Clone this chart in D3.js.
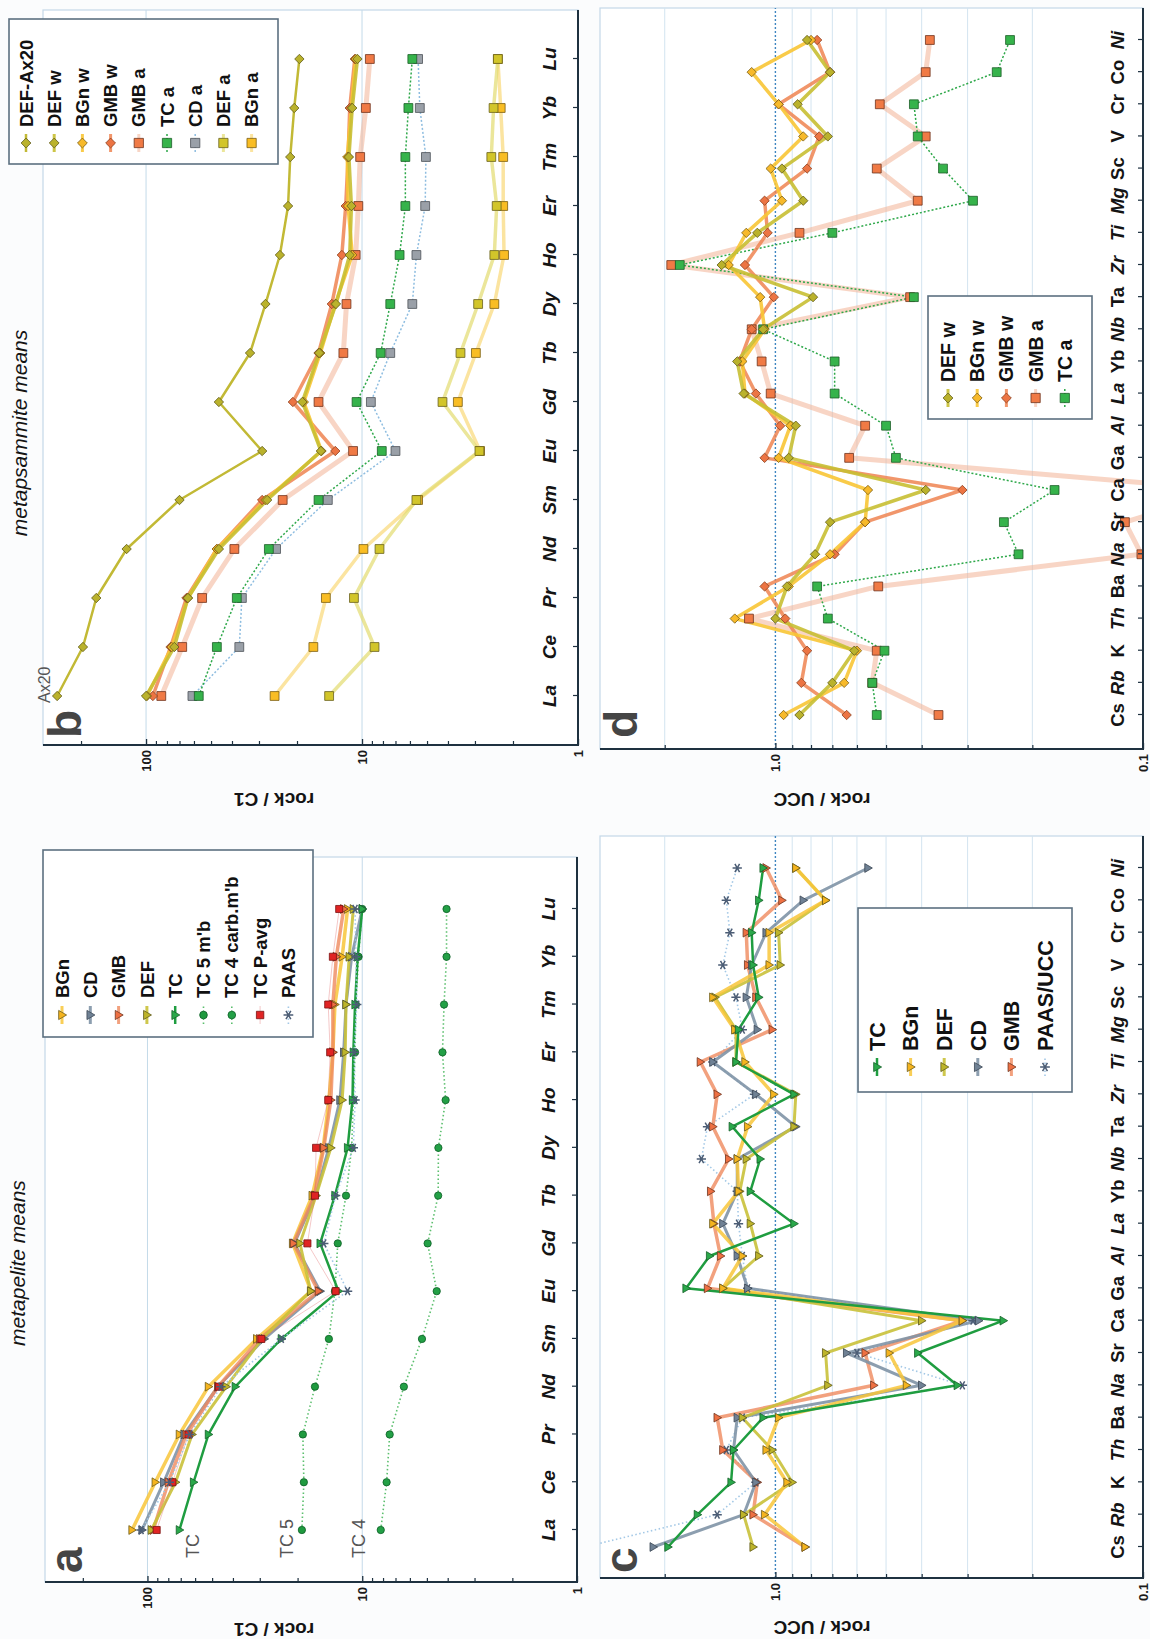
<!DOCTYPE html>
<html>
<head>
<meta charset="utf-8">
<title>Metapelite and metapsammite means: REE and trace element patterns</title>
<script src="https://cdn.jsdelivr.net/npm/d3@7"></script>
<style>
  html, body { margin: 0; padding: 0; background: #fbfcfd; }
  svg { display: block; }
</style>
</head>
<body>
<svg id="fig" width="1150" height="1639"></svg>
<script>
// ---------- categories ----------
const reeElements = ["La","Ce","Pr","Nd","Sm","Eu","Gd","Tb","Dy","Ho","Er","Tm","Yb","Lu"];
const uccElements = ["Cs","Rb","K","Th","Ba","Na","Sr","Ca","Ga","Al","La","Yb","Nb","Ta","Zr","Ti","Mg","Sc","V","Cr","Co","Ni"];
const uccItalic = ["Rb","Th","Na","Al","La","Nb","Zr","Ti","Mg","Ni"];

// ---------- value-axis ticks ----------
const c1TickValues = [100, 10, 1];
const c1TickLabels = ["100", "10", "1"];
const c1MinorTicks = [200, 90, 80, 70, 60, 50, 40, 30, 20, 9, 8, 7, 6, 5, 4, 3, 2];
const c1GridValues = [100, 10];
const uccTickValues = [1, 0.1];
const uccTickLabels = ["1.0", "0.1"];
const uccMinorTicks = [2, 0.9, 0.8, 0.7, 0.6, 0.5, 0.4, 0.3, 0.2];
const uccGridValues = [2, 0.9, 0.8, 0.7, 0.6, 0.5, 0.4, 0.3, 0.2];

// ---------- (a) metapelite means, rock / C1 ----------
const pelBGn    = [118, 92, 71, 52, 31, 17.3, 21.1, 17.1, 15.2, 14.3, 13.7, 13.4, 12.4, 11.7];
const pelCD     = [106, 84, 67.5, 47, 28.6, 15.7, 20.7, 16.5, 14.3, 12.7, 12.2, 11.9, 11.2, 10.0];
const pelGMB    = [94, 80, 66, 47, 30, 16.0, 20.9, 16.7, 15.1, 14.0, 13.7, 13.7, 13.2, 12.2];
const pelDEF    = [96, 74, 62, 43, 29.3, 17.4, 19.5, 16.4, 14.0, 12.4, 12.0, 11.9, 11.5, 11.0];
const pelTC     = [71, 61, 52, 39, 23.8, 12.9, 15.7, 13.4, 11.7, 11.1, 11.0, 10.8, 10.5, 10.0];
const pelTC5    = [19.1, 18.7, 18.9, 16.6, 14.3, 13.4, 13.0, 11.9, 11.2, 11.0, 10.8, 10.7, 10.4, 10.0];
const pelTC4    = [8.2, 7.7, 7.45, 6.4, 5.27, 4.5, 4.96, 4.43, 4.42, 4.09, 4.23, 4.16, 4.05, 4.05];
const pelTCPavg = [90.6, 76.5, 64.4, 46.4, 29.5, 13.3, 18.0, 16.6, 16.4, 14.4, 14.1, 14.4, 13.7, 12.8];
const pelPAAS   = [107, 79, 63.6, 45.5, 23.8, 11.7, 15.1, 13.3, 11.0, 10.8, 10.9, 10.6, 10.7, 10.8];

// ---------- (b) metapsammite means, rock / C1 ----------
const psmDEFAx20 = [258, 196, 170, 123, 70, 29, 46, 33, 28, 24, 22, 21.5, 20.6, 19.5];
const psmDEFw    = [100, 74, 64, 46, 27.5, 15.5, 18.9, 15.8, 13.2, 11.4, 11.2, 11.5, 11.1, 10.5];
const psmBGnw    = [99, 76, 64, 47, 28, 15.4, 18.6, 15.6, 13.3, 11.1, 11.6, 11.7, 11.2, 10.7];
const psmGMBw    = [93, 77, 65, 47, 29, 13.3, 20.9, 15.9, 13.8, 12.4, 11.9, 11.6, 11.4, 10.8];
const psmGMBa    = [85, 68, 55, 39, 23.3, 11.0, 15.9, 12.2, 11.8, 10.7, 10.4, 10.2, 9.6, 9.2];
const psmTCa     = [57, 47, 38, 27, 15.9, 8.1, 10.6, 8.2, 7.4, 6.7, 6.3, 6.3, 6.1, 5.85];
const psmCDa     = [61, 37, 36, 25, 14.4, 7.0, 9.1, 7.4, 5.85, 5.6, 5.1, 5.06, 5.4, 5.5];
const psmDEFa    = [14.2, 8.75, 10.9, 8.3, 5.6, 2.86, 4.24, 3.5, 2.9, 2.44, 2.38, 2.52, 2.46, 2.35];
const psmBGna    = [25.4, 16.8, 14.7, 9.85, 5.5, 2.84, 3.6, 2.97, 2.44, 2.2, 2.22, 2.22, 2.28, 2.35];

// ---------- (c) metapelite means, rock / UCC ----------
const uccTC   = [1.96, 1.63, 1.32, 1.30, 1.08, 0.32, 0.41, 0.24, 1.75, 1.51, 0.89, 1.17, 1.10, 1.31, 0.89, 1.28, 1.26, 1.11, 1.15, 1.16, 1.11, 1.08];
const uccBGn  = [0.83, 1.07, 0.93, 1.06, 0.98, 0.44, 0.49, 0.31, 1.39, 1.23, 1.48, 1.26, 1.27, 1.19, 1.01, 1.21, 1.29, 1.48, 1.04, 1.04, 0.73, 0.88];
const uccDEF  = [1.15, 1.22, 0.90, 1.02, 1.23, 0.72, 0.73, 0.40, 1.39, 1.11, 1.17, 1.25, 1.20, 0.89, 0.88, 1.28, 1.28, 1.46, 0.97, 0.98, 0.73, 0.88];
const uccCD   = [2.15, 1.22, 1.13, 1.30, 1.27, 0.40, 0.64, 0.28, 1.19, 1.27, 1.39, 1.27, 1.27, 0.88, 1.13, 1.48, 1.12, 1.20, 1.16, 1.06, 0.84, 0.56];
const uccGMB  = [0.83, 1.15, 1.12, 1.39, 1.44, 0.54, 0.57, 0.31, 1.53, 1.41, 1.47, 1.50, 1.34, 1.48, 1.44, 1.60, 1.02, 1.13, 1.19, 1.20, 0.96, 1.06];
const uccPAAS = [3.3, 1.44, 1.13, 1.36, 1.23, 0.31, 0.60, 0.29, 1.19, 1.23, 1.26, 1.27, 1.59, 1.53, 1.14, 1.48, 1.23, 1.28, 1.39, 1.33, 1.36, 1.27];

// ---------- (d) metapsammite means, rock / UCC ----------
const wthDEFw = [0.86, 0.70, 0.61, 1.0, 0.93, 0.78, 0.71, 0.39, 0.92, 0.88, 1.22, 1.27, 1.08, 0.79, 1.40, 1.12, 0.84, 0.96, 0.72, 0.87, 0.71, 0.82];
const wthBGnw = [0.95, 0.65, 0.60, 1.29, 0.92, 0.71, 0.57, 0.56, 0.98, 0.91, 1.21, 1.23, 1.07, 1.10, 1.34, 1.20, 0.96, 1.03, 0.84, 0.98, 1.16, 0.80];
const wthGMBw = [0.64, 0.85, 0.82, 0.94, 1.07, 0.69, 0.57, 0.31, 1.07, 0.97, 1.13, 1.25, 1.16, 1.01, 1.21, 1.05, 1.07, 0.82, 0.76, 0.98, 0.71, 0.77];
const wthGMBa = [0.36, 0.545, 0.53, 1.18, 0.525, 0.101, 0.112, 0.058, 0.63, 0.57, 1.03, 1.09, 1.16, 0.43, 1.92, 0.86, 0.41, 0.53, 0.39, 0.52, 0.39, 0.38];
const wthTCa  = [0.53, 0.545, 0.505, 0.72, 0.77, 0.218, 0.239, 0.174, 0.47, 0.50, 0.69, 0.69, 1.08, 0.42, 1.82, 0.70, 0.29, 0.35, 0.41, 0.42, 0.25, 0.23];

// ---------- drawing ----------
const FONT = '"Liberation Sans", Arial, Helvetica, sans-serif';
const svg = d3.select("#fig");
svg.append("rect").attr("width", 1150).attr("height", 1639).attr("fill", "#fbfcfd");
const defs = svg.append("defs");
// the four panels are laid out on a landscape sheet that is turned a quarter turn
const sheet = svg.append("g").attr("transform", "translate(0,1639) rotate(-90)");

// marker shapes
const diamond = { draw(ctx, size) { const r = Math.sqrt(size / 2); ctx.moveTo(0, -r); ctx.lineTo(r, 0); ctx.lineTo(0, r); ctx.lineTo(-r, 0); ctx.closePath(); } };
const triDown = { draw(ctx, size) { const s = Math.sqrt(size); ctx.moveTo(-0.62 * s, -0.45 * s); ctx.lineTo(0.62 * s, -0.45 * s); ctx.lineTo(0, 0.62 * s); ctx.closePath(); } };
const asterisk = { draw(ctx, size) {
  const r = Math.sqrt(size) * 0.6;
  for (let k = 0; k < 3; k++) {
    const a = Math.PI / 2 + k * Math.PI / 3;
    ctx.moveTo(r * Math.cos(a), r * Math.sin(a));
    ctx.lineTo(-r * Math.cos(a), -r * Math.sin(a));
  }
} };

// series styles
const sty = {
  BGn:   { line: "#f8c63a", lw: 3.5, lo: 0.85, sym: triDown, size: 50, fill: "#f5b41e", ms: "#6b5a1c" },
  CD:    { line: "#7f93a6", lw: 3, lo: 0.9, sym: triDown, size: 50, fill: "#6f8194", ms: "#3b4654" },
  GMB:   { line: "#ef8a5e", lw: 3.5, lo: 0.8, sym: triDown, size: 50, fill: "#ee7042", ms: "#6e3520" },
  DEF:   { line: "#c9c13a", lw: 3, lo: 0.9, sym: triDown, size: 50, fill: "#bdb42a", ms: "#5f5a1a" },
  TC:    { line: "#1f9d40", lw: 2.5, lo: 1, sym: triDown, size: 50, fill: "#2aa84a", ms: "#145f28" },
  TC5:   { line: "#5cbf6e", lw: 1.6, lo: 1, dash: "1.5,2.5", sym: d3.symbolCircle, size: 42, fill: "#1f9a3f", ms: "#0d5e26" },
  TC4:   { line: "#5cbf6e", lw: 1.6, lo: 1, dash: "1.5,2.5", sym: d3.symbolCircle, size: 42, fill: "#23a046", ms: "#0d5e26" },
  Pavg:  { line: "#e06060", lw: 1, lo: 0.35, sym: d3.symbolSquare, size: 50, fill: "#e02424", ms: "#7a1010" },
  PAAS:  { line: "#a3c8e6", lw: 1.6, lo: 1, dash: "1.5,2.5", sym: asterisk, size: 60, fill: "none", ms: "#4c5d75", msw: 1.5 },
  DEFAx: { line: "#c2b935", lw: 2.5, lo: 1, sym: diamond, size: 44, fill: "#bab22c", ms: "#5f5a1a" },
  DEFw:  { line: "#c8bf33", lw: 3.5, lo: 0.9, sym: diamond, size: 44, fill: "#bab22c", ms: "#5f5a1a" },
  BGnw:  { line: "#f8c535", lw: 3.5, lo: 0.9, sym: diamond, size: 44, fill: "#f7b92a", ms: "#7a5e14" },
  GMBw:  { line: "#ef8451", lw: 3.5, lo: 0.85, sym: diamond, size: 44, fill: "#ec7443", ms: "#8a4020" },
  GMBa:  { line: "#f2b296", lw: 5, lo: 0.55, sym: d3.symbolSquare, size: 78, fill: "#f07a45", ms: "#6e3520" },
  TCa:   { line: "#2ea84a", lw: 1.5, lo: 1, dash: "2,2", sym: d3.symbolSquare, size: 78, fill: "#36b34b", ms: "#1d5e28" },
  CDa:   { line: "#8ebde0", lw: 1.5, lo: 1, dash: "2,2", sym: d3.symbolSquare, size: 78, fill: "#9aa0a8", ms: "#4d5258" },
  DEFa:  { line: "#e3dc6f", lw: 3.5, lo: 0.7, sym: d3.symbolSquare, size: 78, fill: "#d2c52a", ms: "#6a6220" },
  BGna:  { line: "#f9d977", lw: 3.5, lo: 0.7, sym: d3.symbolSquare, size: 78, fill: "#f9bd24", ms: "#7a5e14" }
};

function drawPanel(P) {
  const G = P.geom;
  const g = sheet.append("g");
  const x = d3.scalePoint().domain(P.cats).range([G.cat0, G.cat1]);
  const y = d3.scaleLog().domain(P.domain).range([G.top, G.bottom]);

  // plot frame
  g.append("rect").attr("x", G.left).attr("y", G.top)
    .attr("width", G.right - G.left).attr("height", G.bottom - G.top)
    .attr("fill", "#ffffff").attr("stroke", "#c3d8e8").attr("stroke-width", 1.2);

  // grid
  g.append("g").selectAll("line").data(P.grid).join("line")
    .attr("x1", G.left).attr("x2", G.right)
    .attr("y1", d => y(d)).attr("y2", d => y(d))
    .attr("stroke", P.gridColor).attr("stroke-width", 1);
  if (P.unity) {
    g.append("line").attr("x1", G.left).attr("x2", G.right)
      .attr("y1", y(1)).attr("y2", y(1))
      .attr("stroke", "#3f86c0").attr("stroke-width", 1.4).attr("stroke-dasharray", "2,2");
  }

  // data
  const clipId = "clip-" + P.id;
  defs.append("clipPath").attr("id", clipId).append("rect")
    .attr("x", G.left).attr("y", G.top).attr("width", G.right - G.left).attr("height", G.bottom - G.top);
  const plot = g.append("g").attr("clip-path", `url(#${clipId})`);
  const line = d3.line().x((d, i) => x(P.cats[i])).y(d => y(d));
  P.series.forEach(s => {
    const st = sty[s.style];
    plot.append("path").attr("d", line(s.values)).attr("fill", "none")
      .attr("stroke", st.line).attr("stroke-width", st.lw).attr("stroke-opacity", st.lo)
      .attr("stroke-dasharray", st.dash || null).attr("stroke-linejoin", "round");
  });
  P.series.forEach(s => {
    const st = sty[s.style];
    plot.append("g").selectAll("path").data(s.values).join("path")
      .attr("transform", (d, i) => `translate(${x(P.cats[i])},${y(d)})`)
      .attr("d", d3.symbol(st.sym, st.size))
      .attr("fill", st.fill).attr("stroke", st.ms).attr("stroke-width", st.msw || 0.8);
  });

  // value axis (left edge of each landscape panel)
  const va = g.append("g").attr("transform", `translate(${G.left},0)`)
    .call(d3.axisLeft(y).tickValues(P.ticks).tickFormat((d, i) => P.tickLabels[i])
      .tickSizeInner(-6).tickSizeOuter(0).tickPadding(5));
  va.select(".domain").remove();
  va.attr("font-family", FONT).attr("font-size", 13).attr("font-weight", "bold");
  va.selectAll("line").attr("stroke", "#1e3140").attr("stroke-width", 1.3);
  va.selectAll("text").attr("fill", "#1a1a1a");
  const vm = g.append("g").attr("transform", `translate(${G.left},0)`)
    .call(d3.axisLeft(y).tickValues(P.minor).tickFormat("").tickSizeInner(-4).tickSizeOuter(0));
  vm.select(".domain").remove();
  vm.selectAll("line").attr("stroke", "#1e3140").attr("stroke-width", 1.2);

  // category axis
  const ca = g.append("g").attr("transform", `translate(0,${G.bottom})`)
    .call(d3.axisBottom(x).tickFormat("").tickSizeInner(-5).tickSizeOuter(0));
  ca.select(".domain").remove();
  ca.selectAll("line").attr("stroke", "#1e3140").attr("stroke-width", 1.2);

  g.append("line").attr("x1", G.left).attr("x2", G.left).attr("y1", G.top).attr("y2", G.bottom + 1)
    .attr("stroke", "#1e3140").attr("stroke-width", 2);
  g.append("line").attr("x1", G.left - 1).attr("x2", G.right).attr("y1", G.bottom).attr("y2", G.bottom)
    .attr("stroke", "#1e3140").attr("stroke-width", 2);

  g.append("g").selectAll("text").data(P.cats).join("text")
    .attr("x", d => x(d)).attr("y", G.bottom - P.catOffset)
    .attr("text-anchor", "middle").attr("font-family", FONT).attr("font-size", P.catSize)
    .attr("font-weight", "bold").attr("font-style", d => P.italic(d) ? "italic" : "normal")
    .attr("fill", "#141414").text(d => d);

  // axis title
  g.append("text").attr("transform", `translate(${P.titleX},${P.titleY}) rotate(-90)`)
    .attr("text-anchor", "middle").attr("font-family", FONT).attr("font-size", 19)
    .attr("font-weight", "bold").attr("fill", "#141414").text(P.axisTitle);

  // panel letter
  g.append("text").attr("x", P.letter.x).attr("y", P.letter.y)
    .attr("font-family", FONT).attr("font-size", 46).attr("font-weight", "bold")
    .attr("fill", "#454545").text(P.letter.t);

  // extra labels
  (P.notes || []).forEach(n => {
    g.append("text").attr("x", n.x).attr("y", n.y).attr("font-family", FONT)
      .attr("font-size", n.size).attr("font-style", n.italic ? "italic" : "normal")
      .attr("text-anchor", n.anchor || "start").attr("fill", n.color || "#555").text(n.t);
  });

  // legend
  const L = P.legend;
  const lg = g.append("g");
  lg.append("rect").attr("x", L.x0).attr("y", L.y0).attr("width", L.x1 - L.x0).attr("height", L.y1 - L.y0)
    .attr("fill", "#ffffff").attr("stroke", "#5c7080").attr("stroke-width", 1.6);
  L.items.forEach((it, i) => {
    const st = sty[it.style];
    const yy = L.first + i * L.step;
    lg.append("line").attr("x1", L.sym - 9).attr("x2", L.sym + 9).attr("y1", yy).attr("y2", yy)
      .attr("stroke", st.line).attr("stroke-width", Math.min(st.lw, 3)).attr("stroke-opacity", st.lo)
      .attr("stroke-dasharray", st.dash || null);
    lg.append("path").attr("transform", `translate(${L.sym},${yy})`)
      .attr("d", d3.symbol(st.sym, st.size * 1.1))
      .attr("fill", st.fill).attr("stroke", st.ms).attr("stroke-width", st.msw || 0.8);
    lg.append("text").attr("x", L.text).attr("y", yy).attr("dy", "0.36em")
      .attr("font-family", FONT).attr("font-size", L.size).attr("font-weight", "bold")
      .attr("fill", "#111").text(it.name);
  });
}

// (a)
drawPanel({
  id: "a", cats: reeElements, domain: [300, 1],
  geom: { left: 57, right: 782, top: 45, bottom: 577, cat0: 109, cat1: 730 },
  ticks: c1TickValues, tickLabels: c1TickLabels, minor: c1MinorTicks, grid: c1GridValues, gridColor: "#c4dae9",
  catOffset: 22, catSize: 19, italic: () => true,
  axisTitle: "rock / C1", titleX: 16, titleY: 274,
  letter: { t: "a", x: 66, y: 82 },
  notes: [
    { t: "metapelite means", x: 376, y: 25, size: 21, italic: true, anchor: "middle", color: "#141414" },
    { t: "TC", x: 81, y: 199, size: 18 },
    { t: "TC 5", x: 81, y: 293, size: 18 },
    { t: "TC 4", x: 81, y: 365, size: 18 }
  ],
  series: [
    { style: "TC4", values: pelTC4 }, { style: "TC5", values: pelTC5 },
    { style: "BGn", values: pelBGn }, { style: "CD", values: pelCD }, { style: "GMB", values: pelGMB },
    { style: "DEF", values: pelDEF }, { style: "TC", values: pelTC },
    { style: "Pavg", values: pelTCPavg }, { style: "PAAS", values: pelPAAS }
  ],
  legend: { x0: 602, x1: 789, y0: 43, y1: 313, first: 62, step: 28.3, sym: 624, text: 641, size: 18.5,
    items: [
      { name: "BGn", style: "BGn" }, { name: "CD", style: "CD" }, { name: "GMB", style: "GMB" },
      { name: "DEF", style: "DEF" }, { name: "TC", style: "TC" }, { name: "TC 5 m'b", style: "TC5" },
      { name: "TC 4 carb.m'b", style: "TC4" }, { name: "TC P-avg", style: "Pavg" }, { name: "PAAS", style: "PAAS" }
    ] }
});

// (b)
drawPanel({
  id: "b", cats: reeElements, domain: [300, 1],
  geom: { left: 894, right: 1629, top: 43, bottom: 578, cat0: 943, cat1: 1580 },
  ticks: c1TickValues, tickLabels: c1TickLabels, minor: c1MinorTicks, grid: c1GridValues, gridColor: "#c4dae9",
  catOffset: 22, catSize: 19, italic: () => true,
  axisTitle: "rock / C1", titleX: 846, titleY: 274,
  letter: { t: "b", x: 901, y: 81 },
  notes: [
    { t: "metapsammite means", x: 1206, y: 27, size: 21, italic: true, anchor: "middle", color: "#141414" },
    { t: "Ax20", x: 936, y: 50, size: 16 }
  ],
  series: [
    { style: "BGna", values: psmBGna }, { style: "DEFa", values: psmDEFa },
    { style: "CDa", values: psmCDa }, { style: "TCa", values: psmTCa }, { style: "GMBa", values: psmGMBa },
    { style: "GMBw", values: psmGMBw }, { style: "BGnw", values: psmBGnw }, { style: "DEFw", values: psmDEFw },
    { style: "DEFAx", values: psmDEFAx20 }
  ],
  legend: { x0: 1475, x1: 1620, y0: 9, y1: 278, first: 26, step: 28.2, sym: 1496, text: 1512, size: 18.5,
    items: [
      { name: "DEF-Ax20", style: "DEFAx" }, { name: "DEF w", style: "DEFw" }, { name: "BGn w", style: "BGnw" },
      { name: "GMB w", style: "GMBw" }, { name: "GMB a", style: "GMBa" }, { name: "TC a", style: "TCa" },
      { name: "CD a", style: "CDa" }, { name: "DEF a", style: "DEFa" }, { name: "BGn a", style: "BGna" }
    ] }
});

// (c)
drawPanel({
  id: "c", cats: uccElements, domain: [3, 0.1],
  geom: { left: 61, right: 803, top: 600, bottom: 1143, cat0: 92, cat1: 771 },
  ticks: uccTickValues, tickLabels: uccTickLabels, minor: uccMinorTicks, grid: uccGridValues, gridColor: "#d3e4f0",
  unity: true, catOffset: 19, catSize: 18.5, italic: d => uccItalic.includes(d),
  axisTitle: "rock / UCC", titleX: 18, titleY: 822,
  letter: { t: "c", x: 66, y: 637 },
  series: [
    { style: "PAAS", values: uccPAAS }, { style: "GMB", values: uccGMB }, { style: "CD", values: uccCD },
    { style: "DEF", values: uccDEF }, { style: "BGn", values: uccBGn }, { style: "TC", values: uccTC }
  ],
  legend: { x0: 547, x1: 731, y0: 858, y1: 1072, first: 877, step: 33.6, sym: 572, text: 588, size: 21.5,
    items: [
      { name: "TC", style: "TC" }, { name: "BGn", style: "BGn" }, { name: "DEF", style: "DEF" },
      { name: "CD", style: "CD" }, { name: "GMB", style: "GMB" }, { name: "PAAS/UCC", style: "PAAS" }
    ] }
});

// (d)
drawPanel({
  id: "d", cats: uccElements, domain: [3, 0.1],
  geom: { left: 890, right: 1631, top: 600, bottom: 1143, cat0: 924, cat1: 1599 },
  ticks: uccTickValues, tickLabels: uccTickLabels, minor: uccMinorTicks, grid: uccGridValues, gridColor: "#d3e4f0",
  unity: true, catOffset: 19, catSize: 18.5, italic: d => uccItalic.includes(d),
  axisTitle: "rock / UCC", titleX: 846, titleY: 822,
  letter: { t: "d", x: 901, y: 637 },
  series: [
    { style: "GMBa", values: wthGMBa }, { style: "TCa", values: wthTCa },
    { style: "GMBw", values: wthGMBw }, { style: "BGnw", values: wthBGnw }, { style: "DEFw", values: wthDEFw }
  ],
  legend: { x0: 1220, x1: 1343, y0: 928, y1: 1092, first: 948, step: 29.2, sym: 1241, text: 1257, size: 19.5,
    items: [
      { name: "DEF w", style: "DEFw" }, { name: "BGn w", style: "BGnw" }, { name: "GMB w", style: "GMBw" },
      { name: "GMB a", style: "GMBa" }, { name: "TC a", style: "TCa" }
    ] }
});
</script>
</body>
</html>
